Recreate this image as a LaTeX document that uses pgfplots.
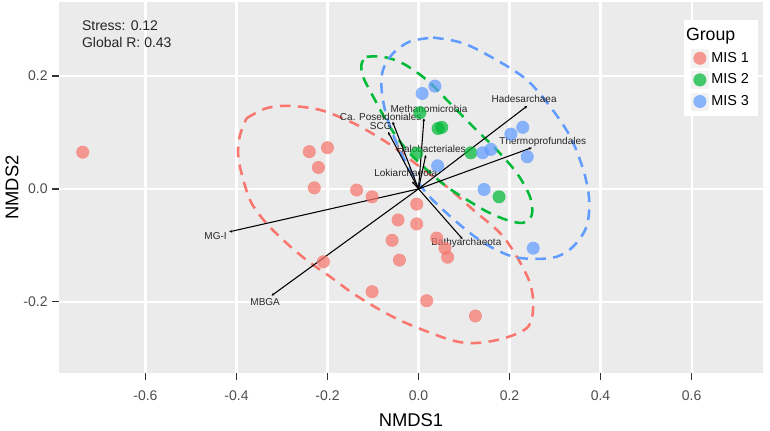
\documentclass[border=0pt]{standalone}
\usepackage{pgfplots}
\pgfplotsset{compat=1.18}
\usepackage{fontspec}
\setmainfont{Liberation Sans}
\usetikzlibrary{arrows.meta}
\definecolor{panel}{HTML}{EBEBEB}
\definecolor{grey20}{HTML}{333333}
\definecolor{grey30}{HTML}{4D4D4D}
\definecolor{keybg}{HTML}{F2F2F2}
\definecolor{cR}{HTML}{F8766D}
\definecolor{cG}{HTML}{00BA38}
\definecolor{cB}{HTML}{619CFF}
\pgfplotsset{
  pts/.style={only marks, color=#1, mark=*, mark size=4.9pt, mark options={solid, fill=#1, draw=none, draw opacity=0, fill opacity=0.72}},
  ell/.style={#1, line width=1.9pt, dash pattern=on 8pt off 5.5pt, smooth, tension=0.55, no marks, forget plot},
  vec/.style={black, line width=0.8pt, -{Stealth[length=2.2pt,width=2pt]}, no marks, forget plot},
}
\begin{document}
\begin{tikzpicture}
\begin{axis}[
  scale only axis, width=528pt, height=278.25pt,
  xmin=-0.79, xmax=0.757, ymin=-0.326, ymax=0.331,
  axis background/.style={fill=panel},
  axis line style={draw=none},
  grid=major, major grid style={white, line width=1.6pt},
  xtick={-0.6,-0.4,-0.2,0,0.2,0.4,0.6},
  xticklabels={-0.6,-0.4,-0.2,0.0,0.2,0.4,0.6},
  ytick={-0.2,0,0.2}, yticklabels={-0.2,0.0,0.2},
  tick align=outside, major tick length=5pt,
  xtick pos=bottom, ytick pos=left,
  tick style={grey20, line width=0.9pt},
  ticklabel style={font=\fontsize{10.5}{12}\selectfont, text=grey30},
  xticklabel style={yshift=-4.5pt},
  xlabel={NMDS1}, ylabel={NMDS2},
  label style={font=\fontsize{13.8}{16}\selectfont},
  xlabel style={at={(axis description cs:0.5,-0.127)}, anchor=center},
  ylabel style={at={(axis description cs:-0.0668,0.5)}, anchor=center},
  clip=false,
  legend cell align=left,
  legend style={at={(axis description cs:0.888,0.951)}, anchor=north west,
    draw=none, fill=white, font=\fontsize{10.8}{12}\selectfont,
    inner xsep=5pt, inner ysep=4pt, row sep=3pt},
  legend image code/.code={
    \fill[keybg] (-6.4pt,-6.4pt) rectangle (6.4pt,6.4pt);
    \draw[mark repeat=1,mark phase=1,#1] plot coordinates {(0pt,0pt)};
  },
]
\addlegendimage{legend image code/.code={}}
\addlegendentry{\hspace*{-19pt}\fontsize{13.3}{14}\selectfont Group}
% points
\addplot[pts=cR] coordinates {
(-0.738,0.065) (-0.240,0.066) (-0.200,0.073) (-0.220,0.038) (-0.229,0.002)
(-0.136,-0.002) (-0.102,-0.014) (-0.004,-0.027) (-0.045,-0.055) (-0.004,-0.062)
(-0.058,-0.091) (-0.042,-0.126) (0.040,-0.087) (0.058,-0.105) (0.064,-0.121)
(-0.209,-0.129) (-0.102,-0.182) (0.018,-0.198) (0.125,-0.225)};
\addlegendentry{MIS 1}
\addplot[pts=cG] coordinates {
(0.003,0.135) (0.043,0.107) (0.051,0.109) (-0.004,0.063) (0.115,0.064) (0.177,-0.014)};
\addlegendentry{MIS 2}
\addplot[pts=cB] coordinates {
(0.008,0.169) (0.036,0.182) (0.042,0.041) (0.141,0.064) (0.159,0.070)
(0.203,0.097) (0.229,0.109) (0.239,0.057) (0.144,-0.001) (0.252,-0.105)};
\addlegendentry{MIS 3}
% ellipses
\addplot[ell=cR] coordinates {
(-0.378,0.125) (-0.334,0.143) (-0.283,0.147) (-0.217,0.140) (-0.158,0.122)
(-0.114,0.104) (-0.056,0.075) (0.003,0.039) (0.062,0.004) (0.120,-0.037)
(0.179,-0.078) (0.216,-0.120) (0.245,-0.167) (0.252,-0.208) (0.241,-0.244)
(0.190,-0.264) (0.124,-0.273) (0.069,-0.267) (-0.026,-0.238) (-0.085,-0.214)
(-0.144,-0.185) (-0.195,-0.155) (-0.246,-0.126) (-0.290,-0.096) (-0.334,-0.061)
(-0.367,-0.025) (-0.385,0.016) (-0.396,0.057) (-0.393,0.093) (-0.378,0.125)};
\addplot[ell=cG] coordinates {
(-0.114,0.234) (-0.078,0.234) (-0.034,0.222) (0.018,0.193) (0.069,0.152)
(0.120,0.110) (0.172,0.069) (0.216,0.028) (0.245,-0.014) (0.249,-0.046)
(0.230,-0.060) (0.194,-0.055) (0.150,-0.040) (0.106,-0.019) (0.062,0.004)
(0.018,0.034) (-0.026,0.069) (-0.063,0.110) (-0.096,0.158) (-0.122,0.199)
(-0.125,0.222) (-0.114,0.234)};
\addplot[ell=cB] coordinates {
(0.032,0.268) (0.098,0.258) (0.172,0.228) (0.238,0.193) (0.289,0.146)
(0.333,0.093) (0.362,0.034) (0.375,-0.019) (0.369,-0.067) (0.340,-0.102)
(0.304,-0.120) (0.260,-0.124) (0.208,-0.120) (0.157,-0.102) (0.113,-0.078)
(0.062,-0.043) (0.018,-0.008) (-0.019,0.034) (-0.048,0.081) (-0.070,0.128)
(-0.081,0.175) (-0.078,0.211) (-0.056,0.240) (-0.019,0.261) (0.032,0.268)};
% vectors
\addplot[vec] coordinates {(0,0) (-0.416,-0.076)};
\addplot[vec] coordinates {(0,0) (-0.323,-0.189)};
\addplot[vec] coordinates {(0,0) (0.097,-0.089)};
\addplot[vec] coordinates {(0,0) (0.249,0.073)};
\addplot[vec] coordinates {(0,0) (0.239,0.147)};
\addplot[vec] coordinates {(0,0) (0.012,0.125)};
\addplot[vec] coordinates {(0,0) (-0.057,0.119)};
\addplot[vec] coordinates {(0,0) (-0.067,0.101)};
\addplot[vec] coordinates {(0,0) (0.016,0.060)};
\addplot[vec] coordinates {(0,0) (-0.014,0.013)};
% vector labels
\begin{scope}[every node/.style={font=\fontsize{7.5}{8}\selectfont, text=black!85, inner sep=0pt}]
\node at (axis cs:-0.446,-0.083) {MG-I};
\node at (axis cs:-0.337,-0.201) {MBGA};
\node at (axis cs:0.105,-0.096) {Bathyarchaeota};
\node at (axis cs:0.273,0.084) {Thermoprofundales};
\node at (axis cs:0.232,0.159) {Hadesarchaea};
\node at (axis cs:0.023,0.141) {Methanomicrobia};
\node at (axis cs:-0.083,0.127) {Ca. Poseidoniales};
\node at (axis cs:-0.083,0.112) {SCG};
\node at (axis cs:0.028,0.070) {Halobacteriales};
\node at (axis cs:-0.028,0.029) {Lokiarchaeota};
\end{scope}
\node[anchor=base west, inner sep=0pt, font=\fontsize{10.5}{12}\selectfont, text=black!85] at (axis cs:-0.740,0.281) {Stress: 0.12};
\node[anchor=base west, inner sep=0pt, font=\fontsize{10.5}{12}\selectfont, text=black!85] at (axis cs:-0.740,0.250) {Global R: 0.43};
\end{axis}
\pgfresetboundingbox
\path[use as bounding box] ([shift={(-44.25pt,-43.5pt)}]current axis.south west) rectangle ([shift={(533.25pt,279.75pt)}]current axis.south west);
\end{tikzpicture}
\end{document}
